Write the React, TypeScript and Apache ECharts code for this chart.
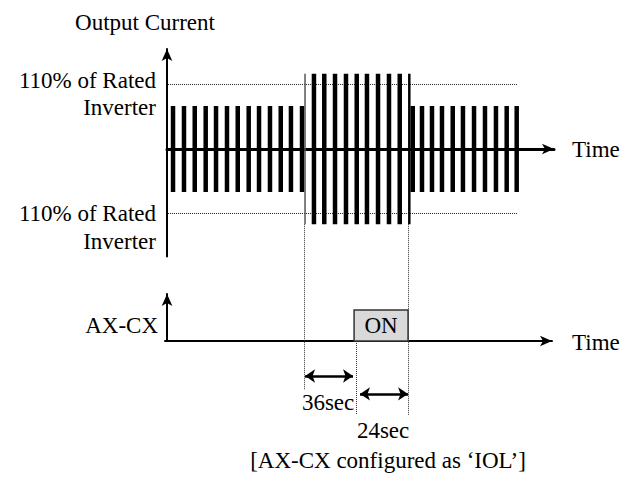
import React, { useEffect, useRef } from "react";
import * as echarts from "echarts";

const FONT = '"Liberation Serif", "Times New Roman", serif';

// ---- Output current waveform (schematic units) ----
const normalTimesBefore = [0.56, 1.58, 2.58, 3.6, 4.56, 5.58, 6.58, 7.6, 8.56, 9.58, 10.58, 11.53, 12.56];
const overloadTimes = [13.67, 14.63, 15.63, 16.65, 17.65, 18.6, 19.63, 20.65, 21.65];
const normalTimesAfter = [22.86, 23.72, 24.65, 25.58, 26.58, 27.53, 28.56, 29.58, 30.6, 31.6, 32.53];
const NORMAL_AMP = 2;
const OVERLOAD_AMP = 3.5;
const LIMIT_AMP = 3; // 110% of rated inverter current
const limitSpan = [0.1, 32.65];
const edgeTimes = [12.84, 22.54];

// ---- AX-CX output ----
const onSpan = [17.4, 22.42];
const ON_LEVEL = 1;

// ---- Timing annotations (annotation layer, lower baseline = 0) ----
const guideLines = [
  [12.77, 3.77, -1.58],
  [17.58, 0, -2.39],
  [22.45, 3.77, -2.39],
];
const delayArrows = [
  [12.84, 17.3, -1.13],
  [17.95, 22.42, -1.71],
];
const delayLabels = ["36sec", "24sec"];
const delayLabelPos = [
  [14.98, -2.0],
  [20.1, -2.9],
];

const axisLineStyle = (w: number) => ({
  show: true,
  onZero: true,
  symbol: ["none", "arrow"],
  symbolSize: [8, 12],
  lineStyle: { color: "#000", width: w },
});

export default function App() {
  const ref = useRef<HTMLDivElement>(null);
  useEffect(() => {
    if (!ref.current) return;
    const chart = echarts.init(ref.current, undefined, { renderer: "svg" });

    const bars = [
      ...normalTimesBefore.map((t) => [t, NORMAL_AMP]),
      ...overloadTimes.map((t) => [t, OVERLOAD_AMP]),
      ...normalTimesAfter.map((t) => [t, NORMAL_AMP]),
    ];

    const hidden = {
      axisLine: { show: false },
      axisTick: { show: false },
      axisLabel: { show: false },
      splitLine: { show: false },
    };
    const noDeco = { axisTick: { show: false }, axisLabel: { show: false }, splitLine: { show: false } };

    const option: any = {
      animation: false,
      backgroundColor: "#fff",
      grid: [
        { left: 167, top: 49, width: 387, height: 207.5 },
        { left: 165, top: 294, width: 387, height: 47 },
        { left: 165, top: 214, width: 387, height: 201 },
      ],
      xAxis: [
        { gridIndex: 0, type: "value", min: 0, max: 36, axisLine: axisLineStyle(3), ...noDeco },
        { gridIndex: 1, type: "value", min: -0.19, max: 35.81, axisLine: axisLineStyle(2), ...noDeco },
        { gridIndex: 2, type: "value", min: -0.19, max: 35.81, ...hidden },
      ],
      yAxis: [
        { gridIndex: 0, type: "value", min: -5, max: 4.65, axisLine: axisLineStyle(2), ...noDeco },
        { gridIndex: 1, type: "value", min: 0, max: 1.52, axisLine: axisLineStyle(2), ...noDeco },
        { gridIndex: 2, type: "value", min: -2.39, max: 4.1, ...hidden },
      ],
      series: [
        {
          type: "line",
          xAxisIndex: 0,
          yAxisIndex: 0,
          data: [[limitSpan[0], LIMIT_AMP], [limitSpan[1], LIMIT_AMP]],
          showSymbol: false,
          symbol: "none",
          lineStyle: { color: "#222", width: 1, type: [1, 1] },
          z: 1,
        },
        {
          type: "line",
          xAxisIndex: 0,
          yAxisIndex: 0,
          data: [[limitSpan[0], -LIMIT_AMP], [limitSpan[1], -LIMIT_AMP]],
          showSymbol: false,
          symbol: "none",
          lineStyle: { color: "#222", width: 1, type: [1, 1] },
          z: 1,
        },
        {
          type: "custom",
          xAxisIndex: 0,
          yAxisIndex: 0,
          data: bars,
          encode: { x: 0, y: 1 },
          z: 3,
          renderItem: (_p: any, api: any) => {
            const t = api.value(0);
            const a = api.value(1);
            const p1 = api.coord([t, a]);
            const p2 = api.coord([t, -a]);
            const w = 4.5;
            return {
              type: "rect",
              shape: { x: p1[0] - w / 2, y: p1[1], width: w, height: p2[1] - p1[1] },
              style: { fill: "#000" },
            };
          },
        },
        {
          type: "custom",
          xAxisIndex: 0,
          yAxisIndex: 0,
          data: edgeTimes.map((t) => [t, OVERLOAD_AMP]),
          encode: { x: 0, y: 1 },
          z: 3,
          renderItem: (p: any, api: any) => {
            const t = api.value(0);
            const a = api.value(1);
            const p1 = api.coord([t, a]);
            const p2 = api.coord([t, -a]);
            const w = p.dataIndex === 0 ? 1.5 : 2.5;
            return {
              type: "rect",
              shape: { x: p1[0] - w / 2, y: p1[1], width: w, height: p2[1] - p1[1] },
              style: { fill: p.dataIndex === 0 ? "#555" : "#000" },
            };
          },
        },
        {
          type: "custom",
          xAxisIndex: 1,
          yAxisIndex: 1,
          data: [[onSpan[0], onSpan[1], ON_LEVEL]],
          encode: { x: [0, 1], y: 2 },
          z: 3,
          renderItem: (_p: any, api: any) => {
            const p1 = api.coord([api.value(0), api.value(2)]);
            const p2 = api.coord([api.value(1), 0]);
            return {
              type: "group",
              children: [
                {
                  type: "rect",
                  shape: { x: p1[0], y: p1[1], width: p2[0] - p1[0], height: p2[1] - p1[1] },
                  style: { fill: "#d9d9d9", stroke: "#333", lineWidth: 1.5 },
                },
                {
                  type: "text",
                  style: {
                    text: "ON",
                    x: (p1[0] + p2[0]) / 2,
                    y: (p1[1] + p2[1]) / 2,
                    align: "center",
                    verticalAlign: "middle",
                    textAlign: "center",
                    textVerticalAlign: "middle",
                    font: `23px ${FONT}`,
                    fill: "#000",
                  },
                },
              ],
            };
          },
        },
        {
          type: "lines",
          coordinateSystem: "cartesian2d",
          xAxisIndex: 2,
          yAxisIndex: 2,
          symbol: "none",
          lineStyle: { color: "#333", width: 1, type: [1, 1], opacity: 1 },
          data: guideLines.map(([t, y1, y2]) => ({ coords: [[t, y1], [t, y2]] })),
          z: 2,
        },
        {
          type: "lines",
          coordinateSystem: "cartesian2d",
          xAxisIndex: 2,
          yAxisIndex: 2,
          symbol: ["arrow", "arrow"],
          symbolSize: 10,
          lineStyle: { color: "#000", width: 2.5, opacity: 1 },
          data: delayArrows.map(([a, b, y]) => ({ coords: [[a, y], [b, y]] })),
          z: 2,
        },
      ],
    };
    chart.setOption(option);

    const font = `23px ${FONT}`;
    const txt = (text: string, x: number, y: number, align: string) => ({
      type: "text",
      style: {
        text,
        x,
        y,
        font,
        fill: "#000",
        align,
        verticalAlign: "middle",
        textAlign: align,
        textVerticalAlign: "middle",
      },
    });
    const labelEls = delayLabels.map((s, i) => {
      const p = chart.convertToPixel({ gridIndex: 2 } as any, delayLabelPos[i]) as number[];
      return txt(s, p[0], p[1], "center");
    });
    chart.setOption({
      graphic: [
        txt("Output Current", 145, 22, "center"),
        txt("110% of Rated", 156, 80, "right"),
        txt("Inverter", 156, 107, "right"),
        txt("110% of Rated", 156, 213, "right"),
        txt("Inverter", 156, 241, "right"),
        txt("Time", 572, 149, "left"),
        txt("AX-CX", 158, 325, "right"),
        txt("Time", 572, 342, "left"),
        ...labelEls,
        txt("[AX-CX configured as \u2018IOL\u2019]", 388, 460, "center"),
      ],
    });

    return () => chart.dispose();
  }, []);
  return (
    <div
      ref={ref}
      style={{ position: "fixed", left: 0, top: 0, width: 633, height: 477, background: "#fff" }}
    />
  );
}
